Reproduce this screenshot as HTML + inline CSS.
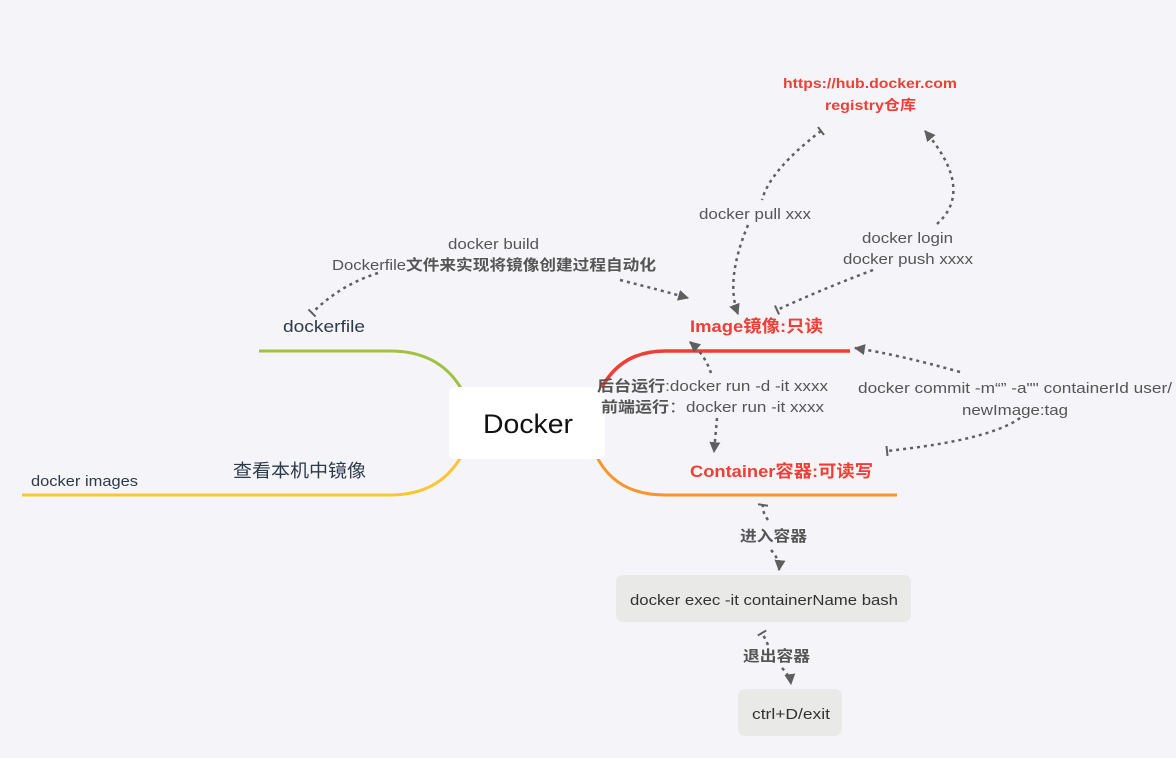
<!DOCTYPE html>
<html><head><meta charset="utf-8"><style>
html,body{margin:0;padding:0;background:#f5f5f9;}
svg{display:block;}
text{font-family:"Liberation Sans","Noto Sans CJK SC",sans-serif;}
</style></head><body>
<svg width="1176" height="758" viewBox="0 0 1176 758" xmlns="http://www.w3.org/2000/svg">
<defs>
<marker id="ar" viewBox="0 0 10 10" refX="9" refY="5" markerWidth="11" markerHeight="11" markerUnits="userSpaceOnUse" orient="auto-start-reverse"><path d="M0,0 L10,5 L0,10 z" fill="#5f5f5f"/></marker>
<marker id="tb" viewBox="0 0 10 10" refX="5" refY="5" markerWidth="10" markerHeight="10" markerUnits="userSpaceOnUse" orient="auto"><path d="M5,0 L5,10" stroke="#5f5f5f" stroke-width="2"/></marker>
</defs>
<rect width="1176" height="758" fill="#f5f5f9"/>
<path d="M259,351 L390,351 Q440,351 462,390" fill="none" stroke="#a1c140" stroke-width="3"/>
<path d="M22,495 L390,495 Q440,495 462,455" fill="none" stroke="#fac633" stroke-width="3"/>
<path d="M850,351 L665,351 Q615,351 596,400" fill="none" stroke="#ed3f35" stroke-width="3.5"/>
<path d="M897,495 L665,495 Q615,495 596,455" fill="none" stroke="#f6962c" stroke-width="3"/>
<rect x="449" y="387" width="156" height="72" rx="6" fill="#fff"/>
<text x="483" y="433" font-size="27" fill="#111" textLength="90" lengthAdjust="spacingAndGlyphs">Docker</text>
<text x="283" y="332" font-size="17" fill="#2d3a4a" textLength="82" lengthAdjust="spacingAndGlyphs">dockerfile</text>
<text x="233" y="477" font-size="18" fill="#2d3a4a" textLength="133" lengthAdjust="spacingAndGlyphs">查看本机中镜像</text>
<text x="31" y="486" font-size="15" fill="#2d3a4a" textLength="107" lengthAdjust="spacingAndGlyphs">docker images</text>
<text x="690" y="332" font-size="17" font-weight="bold" fill="#ed3f35" textLength="133" lengthAdjust="spacingAndGlyphs">Image镜像:只读</text>
<text x="690" y="477" font-size="17" font-weight="bold" fill="#ed3f35" textLength="183" lengthAdjust="spacingAndGlyphs">Container容器:可读写</text>
<text x="783" y="88" font-size="14" font-weight="bold" fill="#ed3f35" textLength="174" lengthAdjust="spacingAndGlyphs">https://hub.docker.com</text>
<text x="825" y="110" font-size="14" font-weight="bold" fill="#ed3f35" textLength="91" lengthAdjust="spacingAndGlyphs">registry仓库</text>
<g font-size="15" fill="#555">
<text x="448" y="249" textLength="91" lengthAdjust="spacingAndGlyphs">docker build</text>
<text x="332" y="270" textLength="324" lengthAdjust="spacingAndGlyphs">Dockerfile<tspan font-weight="bold">文件来实现将镜像创建过程自动化</tspan></text>
<text x="699" y="219" textLength="112" lengthAdjust="spacingAndGlyphs">docker pull xxx</text>
<text x="862" y="243" textLength="91" lengthAdjust="spacingAndGlyphs">docker login</text>
<text x="843" y="264" textLength="130" lengthAdjust="spacingAndGlyphs">docker push xxxx</text>
<text x="597" y="391" textLength="231" lengthAdjust="spacingAndGlyphs"><tspan font-weight="bold">后台运行</tspan>:docker run -d -it xxxx</text>
<text x="601" y="412" textLength="223" lengthAdjust="spacingAndGlyphs"><tspan font-weight="bold">前端运行</tspan>：docker run -it xxxx</text>
<text x="858" y="393" textLength="314" lengthAdjust="spacingAndGlyphs">docker commit -m“” -a"" containerId user/</text>
<text x="962" y="415" textLength="106" lengthAdjust="spacingAndGlyphs">newImage:tag</text>
<text x="740" y="541" font-weight="bold" textLength="67" lengthAdjust="spacingAndGlyphs">进入容器</text>
<text x="743" y="661" font-weight="bold" textLength="67" lengthAdjust="spacingAndGlyphs">退出容器</text>
</g>
<rect x="616" y="575" width="295" height="47" rx="7" fill="#e9e9e7"/>
<text x="630" y="605" font-size="15" fill="#333" textLength="268" lengthAdjust="spacingAndGlyphs">docker exec -it containerName bash</text>
<rect x="738" y="689" width="104" height="47" rx="7" fill="#e9e9e7"/>
<text x="752" y="719" font-size="15" fill="#333" textLength="78" lengthAdjust="spacingAndGlyphs">ctrl+D/exit</text>
<g fill="none" stroke="#5f5f5f" stroke-width="2.5" stroke-dasharray="3,4">
<path d="M378,273 Q340,285 312,313" marker-end="url(#tb)"/>
<path d="M620,280 Q660,290 688,298" marker-end="url(#ar)"/>
<path d="M821,131 Q770,170 762,200" marker-start="url(#tb)"/>
<path d="M748,225 Q725,280 738,314" marker-end="url(#ar)"/>
<path d="M937,224 Q975,190 925,131" marker-end="url(#ar)"/>
<path d="M873,270 Q820,290 777,310" marker-end="url(#tb)"/>
<path d="M711,373 Q705,355 690,342" marker-end="url(#ar)"/>
<path d="M717,418 L714,452" marker-end="url(#ar)"/>
<path d="M960,372 Q900,355 855,348" marker-end="url(#ar)"/>
<path d="M1020,418 Q990,440 887,451" marker-end="url(#tb)"/>
<path d="M768,520 Q762,512 763,505" marker-end="url(#tb)"/>
<path d="M771,550 Q780,560 779,570" marker-end="url(#ar)"/>
<path d="M768,645 Q765,638 762,633" marker-end="url(#tb)"/>
<path d="M782,668 Q790,676 791,684" marker-end="url(#ar)"/>
</g>
</svg>
</body></html>
